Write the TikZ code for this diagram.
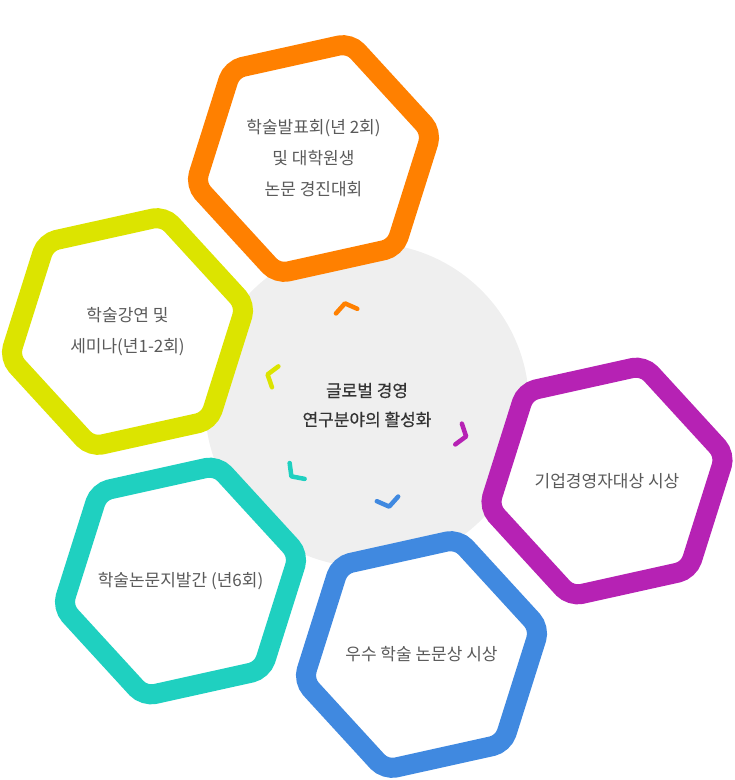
\documentclass[tikz,border=0pt]{standalone}
\usepackage{fontspec}
\setmainfont{Noto Sans CJK KR}
\newfontfamily\hubfont{Noto Sans CJK KR}[FakeBold=0.5]
\usepackage{tikz}
\usetikzlibrary{shapes.geometric, calc}
\definecolor{ringorange}{RGB}{255, 128, 0}
\definecolor{ringlime}{RGB}{220, 228, 0}
\definecolor{ringmagenta}{RGB}{182, 34, 180}
\definecolor{ringblue}{RGB}{64, 137, 224}
\definecolor{ringteal}{RGB}{31, 208, 192}
\definecolor{hubgrey}{RGB}{239, 239, 239}
\definecolor{hubtext}{RGB}{51, 51, 51}
\definecolor{hextext}{RGB}{90, 90, 90}

\begin{document}
\begin{tikzpicture}[
    x=1pt, y=1pt,
    hubdisc/.style={
        circle, fill=hubgrey, minimum size=324pt, inner sep=0pt, align=center,
        text=hubtext, font=\hubfont\fontsize{17pt}{29pt}\selectfont
    },
    hexring/.style={
        regular polygon, regular polygon sides=6, shape border rotate=12.5,
        draw=#1, fill=white, line width=20pt, rounded corners=11pt,
        minimum size=242pt, inner sep=-40pt, outer sep=0pt, align=center,
        text=hextext, font=\fontsize{17pt}{31pt}\selectfont
    },
    chevmark/.style={
        draw=#1, line width=4.5pt, line cap=round, line join=round
    }
]
\useasboundingbox (0,0) rectangle (735,-780);

% Centre
\node[hubdisc] (hub) at (367,-405) {글로벌 경영\\연구분야의 활성화};

% Hexagons
\node[hexring=ringorange] (conf) at (313.5,-158.5) {학술발표회(년 2회)\\및 대학원생\\논문 경진대회};
\node[hexring=ringlime] (lecture) at (127.5,-331.5) {학술강연 및\\세미나(년1-2회)};
\node[hexring=ringmagenta] (award) at (607,-481) {기업경영자대상 시상};
\node[hexring=ringteal] (journal) at (180.5,-581) {학술논문지발간 (년6회)};
\node[hexring=ringblue] (paper) at (421.5,-654.5) {우수 학술 논문상 시상};

% Chevrons
\foreach \hx/\col in {conf/ringorange, lecture/ringlime, award/ringmagenta, journal/ringteal, paper/ringblue} {
    \coordinate (tip-\hx) at ($(hub.center)!104pt!(\hx.center)$);
    \draw[chevmark=\col] ($(tip-\hx)!13.5pt!126:(\hx.center)$) -- (tip-\hx) -- ($(tip-\hx)!13.5pt!-126:(\hx.center)$);
}

\end{tikzpicture}
\end{document}
